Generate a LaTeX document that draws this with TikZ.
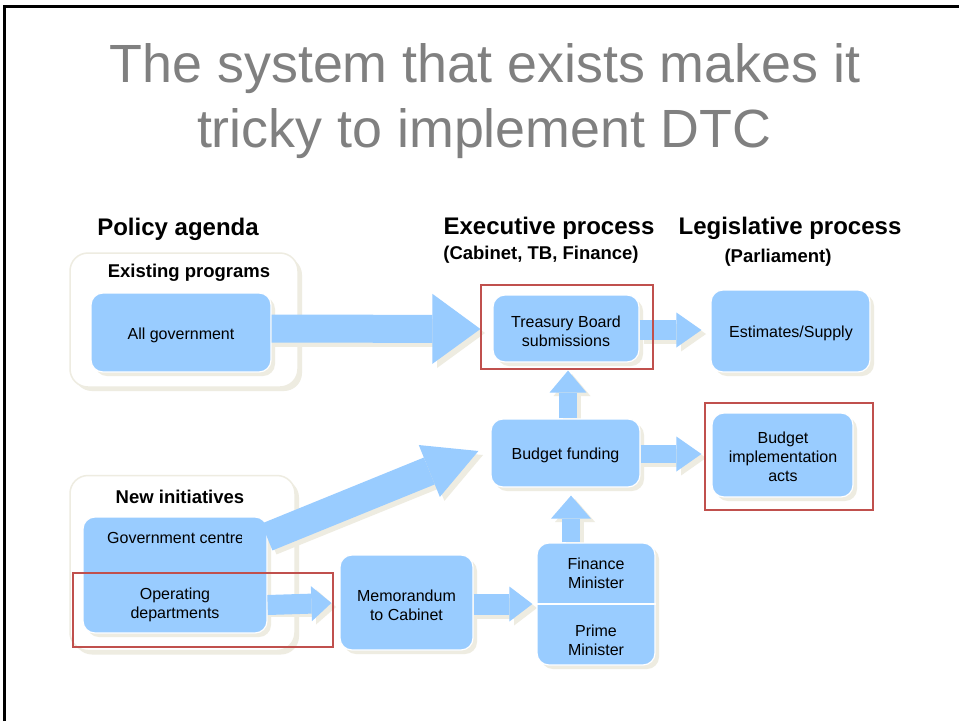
\documentclass[tikz,border=0pt]{standalone}
\usepackage{fontspec}
\setmainfont{Liberation Sans}
\usetikzlibrary{arrows.meta,shadows,calc}
\definecolor{bluef}{HTML}{99CCFF}
\definecolor{shb}{HTML}{EEECE1}
\definecolor{redb}{HTML}{C0504D}
\definecolor{titleg}{HTML}{808080}
\newcommand\blockarrow[5]{%
  \draw[line width=#1pt, shb, -{Triangle[length=#2pt,width=#3pt,line width=0pt]},
        transform canvas={xshift=4pt,yshift=-4pt}] #4 -- #5;}
\newcommand\blockarrowfg[5]{%
  \draw[line width=#1pt, bluef, -{Triangle[length=#2pt,width=#3pt,line width=0pt]}] #4 -- #5;}
\begin{document}
\begin{tikzpicture}[x=1pt,y=-1pt,
  myshadow/.style={drop shadow={shadow xshift=4pt,shadow yshift=-4pt,fill=shb,opacity=1,draw=none}},
  bbox/.style={rectangle, rounded corners=12pt, fill=bluef, draw=white, line width=1.2pt,
     inner sep=0pt, myshadow},
  container/.style={rectangle, rounded corners=18pt, fill=white, draw=shb, line width=1.5pt,
     inner sep=0pt, myshadow},
  redbox/.style={draw=redb, line width=2pt},
  lbl/.style={inner sep=0pt, align=center, font=\fontsize{16}{19}\selectfont},
  head/.style={inner sep=0pt, anchor=base, font=\fontsize{24}{28}\selectfont\bfseries},
  subhead/.style={inner sep=0pt, anchor=base, font=\fontsize{18.5}{21}\selectfont\bfseries},
  grouplbl/.style={inner sep=0pt, anchor=base, font=\fontsize{18.5}{21}\selectfont\bfseries},
  titlestyle/.style={inner sep=0pt, anchor=base, text=titleg, font=\fontsize{53.8}{60}\selectfont}
]
\useasboundingbox (0,0) rectangle (959,721);
\fill[white] (0,0) rectangle (959,721);
% slide frame
\draw[line width=3pt] (4.5,721) -- (4.5,6.5) -- (959,6.5);

% title
\node[titlestyle] (t1) at (485,82) {The system that exists makes it};
\node[titlestyle] (t2) at (484,147) {tricky to implement DTC};

% headings
\node[head] (hpol) at (178,235) {Policy agenda};
\node[head] (hexe) at (549,234) {Executive process};
\node[subhead] (hexs) at (541,259) {(Cabinet, TB, Finance)};
\node[head] (hleg) at (790,234) {Legislative process};
\node[subhead] (hles) at (778,262) {(Parliament)};

% group containers
\node[container, minimum width=228, minimum height=134] (cexist) at (184,320) {};
\node[grouplbl] (lexist) at (189,277) {Existing programs};
\node[container, minimum width=225, minimum height=175] (cnew) at (182.5,563) {};
\node[grouplbl] (lnew) at (180,503) {New initiatives};

% coordinates for arrows
\coordinate (gcs) at (267,537);

% arrow shadows
\blockarrow{28}{48}{70}{(271,329)}{(481,329)}
\blockarrow{20}{25}{35}{(640,330)}{(702,330)}
\blockarrow{18}{22}{37}{(568,419)}{(568,370)}
\blockarrow{18}{25}{35}{(640,454)}{(702,454)}
\blockarrow{18}{23}{40}{(571,543)}{(571,495)}
\blockarrow{29}{53}{56}{(gcs)}{(479,451)}
\blockarrow{20}{20}{35}{(267,603)}{(332,603)}
\blockarrow{21}{23}{35}{(473,604)}{(533,604)}

% boxes
\node[bbox, minimum width=180, minimum height=79] (ag) at (181,332.5) {};
\node[bbox, minimum width=146, minimum height=67] (tb) at (566,328.5) {};
\node[bbox, minimum width=159, minimum height=82] (est) at (790.5,331) {};
\node[bbox, minimum width=149, minimum height=68] (bf) at (565.5,453) {};
\node[bbox, minimum width=141, minimum height=84] (bi) at (782.5,455) {};
\node[bbox, minimum width=184, minimum height=116] (gcbox) at (175,575) {};
\node[bbox, minimum width=133, minimum height=95] (memo) at (406.5,602.5) {};
\node[bbox, minimum width=118, minimum height=122] (fp) at (596,604) {};
\draw[white, line width=2pt] (fp.west) -- (fp.east);

% box texts
\node[lbl] (agt) at (181,335) {All government};
\node[lbl] (tbt) at (566,331) {Treasury Board\\submissions};
\node[lbl] (estt) at (791,333) {Estimates/Supply};
\node[lbl] (bft) at (565.5,455.5) {Budget funding};
\node[lbl] (bit) at (783,457) {Budget\\implementation\\acts};
\node[lbl] (memot) at (406.5,605.5) {Memorandum\\to Cabinet};
\node[lbl] (fin) at (596,573.5) {Finance\\Minister};
\node[lbl] (pm) at (596,640.5) {Prime\\Minister};
\node[lbl] (op) at (175,605) {Operating\\departments};
\begin{scope}
  \clip (100,520) rectangle (241,555);
  \node[lbl, anchor=west] (gc) at (107,538) {Government centre};
\end{scope}

% arrows
\blockarrowfg{28}{48}{70}{(ag.east |- tb.west)}{($(tb.west)+(-12,0.5)$)}
\blockarrowfg{20}{25}{35}{(tb.east)+(0,1.5)}{($(est.west)+(-9,-1)$)}
\blockarrowfg{18}{22}{37}{($(bf.north)+(2.5,0)$)}{($(tb.south)+(2,8)$)}
\blockarrowfg{18}{25}{35}{($(bf.east)+(0,1)$)}{($(bi.west)+(-10,-1)$)}
\blockarrowfg{18}{23}{40}{($(fp.north)+(-25,0)$)}{($(bf.south)+(5.5,8)$)}
\blockarrowfg{29}{53}{56}{(gcs)}{($(bf.west)+(-12,-2)$)}
\blockarrowfg{20}{20}{35}{(gcbox.east |- op)}{($(memo.west)+(-8,0.5)$)}
\blockarrowfg{21}{23}{35}{(memo.east)+(0,1.5)}{($(fp.west)+(-4,0)$)}

% red highlight frames
\draw[redbox] (481,285) rectangle (653,369);
\draw[redbox] (705,403) rectangle (873,510);
\draw[redbox] (73,573) rectangle (333,647);
\end{tikzpicture}
\end{document}
